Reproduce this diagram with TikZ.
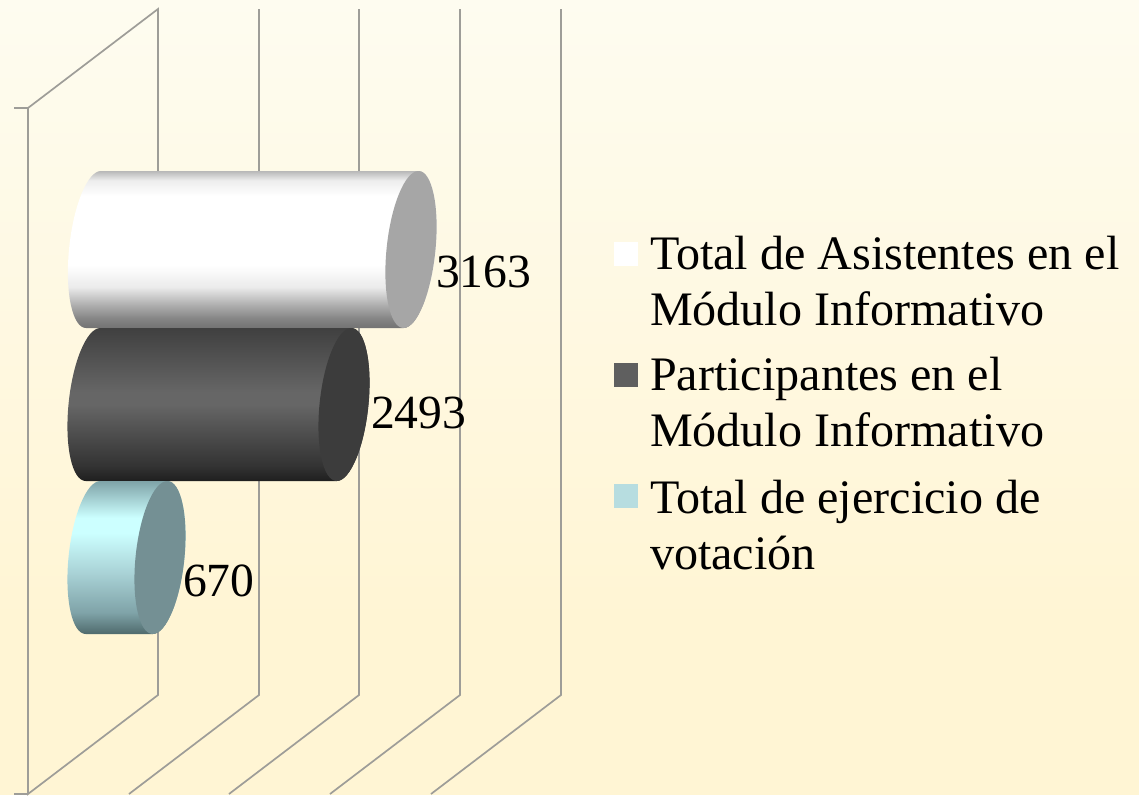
\documentclass[tikz,border=0pt]{standalone}
\usepackage{fontspec}
\setmainfont{Liberation Serif}
\pgfdeclareverticalshading{barwhite}{100bp}{color(0bp)=(black!55);color(25bp)=(black!55);color(28bp)=(black!48);color(32bp)=(black!33);color(38bp)=(black!8);color(45bp)=(white);color(67bp)=(white);color(72bp)=(black!7);color(75bp)=(black!28);color(100bp)=(black!28)}
\pgfdeclareverticalshading{bardark}{100bp}{color(0bp)=(black!88);color(25bp)=(black!88);color(30bp)=(black!80);color(50bp)=(black!60);color(54bp)=(black!60);color(75bp)=(black!75);color(100bp)=(black!75)}
\definecolor{cyanpeak}{HTML}{CCFFFF}
\definecolor{cyanlow}{HTML}{4F6A6C}
\definecolor{cyanmid}{HTML}{7FA3A8}
\definecolor{cyanhi}{HTML}{A9D2D6}
\pgfdeclareverticalshading{barcyan}{100bp}{color(0bp)=(cyanlow);color(25bp)=(cyanlow);color(32bp)=(cyanmid);color(45bp)=(cyanhi);color(58bp)=(cyanpeak);color(63bp)=(cyanpeak);color(75bp)=(cyanmid);color(100bp)=(cyanmid)}
\definecolor{bgtop}{HTML}{FEFCF0}
\definecolor{bgbot}{HTML}{FFF5D4}
\definecolor{gridc}{HTML}{9E9D98}
\definecolor{capw}{HTML}{A6A6A6}
\definecolor{capd}{HTML}{3C3C3C}
\definecolor{capc}{HTML}{749094}
\definecolor{swd}{HTML}{5F5F5F}
\definecolor{swc}{HTML}{B7DDE0}
\tikzset{
  gridline/.style={draw=gridc,line width=1.7pt},
  lab/.style={anchor=base west,inner sep=0pt,outer sep=0pt,font=\fontsize{47.6}{56}\selectfont,text=black},
  leg/.style={lab,font=\fontsize{48.1}{56}\selectfont},
  swatch/.style={minimum size=24pt,inner sep=0pt,outer sep=0pt,anchor=north west},
}
% left centre, right centre, vertical centre, half height, shading, cap colour
\newcommand{\barcyl}[6]{%
  \begin{scope}[shift={(0,#3)},xslant=0.095]
    \shade[shading=#5] (#1,-#4) -- (#2,-#4) arc[start angle=90,end angle=-90,x radius=24.5pt,y radius=#4pt]
       -- (#1,#4) arc[start angle=270,end angle=90,x radius=24.5pt,y radius=#4pt] -- cycle;
    \fill[#6] (#2,0) ellipse[x radius=24.5pt,y radius=#4pt];
  \end{scope}}
\begin{document}
\begin{tikzpicture}[x=1pt,y=-1pt]
\useasboundingbox (0,0) rectangle (1139,795);
\fill[bgbot] (0,0) rectangle (1139,795);
\shade[top color=bgtop,bottom color=bgbot] (0,0) rectangle (1139,620);
% walls
\draw[gridline] (14,108) -- (28,108) -- (158,9) -- (158,695) -- (28,794) -- (28,108);
\draw[gridline] (14,794) -- (28,794);
\draw[gridline] (259,9) -- (259,695) -- (129,794);
\draw[gridline] (359,9) -- (359,695) -- (229,794);
\draw[gridline] (460,9) -- (460,695) -- (330,794);
\draw[gridline] (561,9) -- (561,695) -- (431,794);
% bars
\barcyl{93.5}{411}{249.5}{78.5}{barwhite}{capw}
\barcyl{93}{344}{404.5}{76.5}{bardark}{capd}
\barcyl{93}{160}{557.5}{76.5}{barcyan}{capc}
% data labels
\node[lab] (v1) at (436,287) {3163};
\node[lab] (v2) at (371,428) {2493};
\node[lab] (v3) at (183,596) {670};
% legend
\node[swatch,fill=white] (s1) at (614,242) {};
\node[swatch,fill=swd] (s2) at (614,363) {};
\node[swatch,fill=swc] (s3) at (614,484) {};
\node[leg] (l1a) at (650,269) {Total de Asistentes en el};
\node[leg] (l1b) at (650,325) {Módulo Informativo};
\node[leg] (l2a) at (650,390) {Participantes en el};
\node[leg] (l2b) at (650,446) {Módulo Informativo};
\node[leg] (l3a) at (650,513) {Total de ejercicio de};
\node[leg] (l3b) at (650,569) {votación};
\end{tikzpicture}
\end{document}
